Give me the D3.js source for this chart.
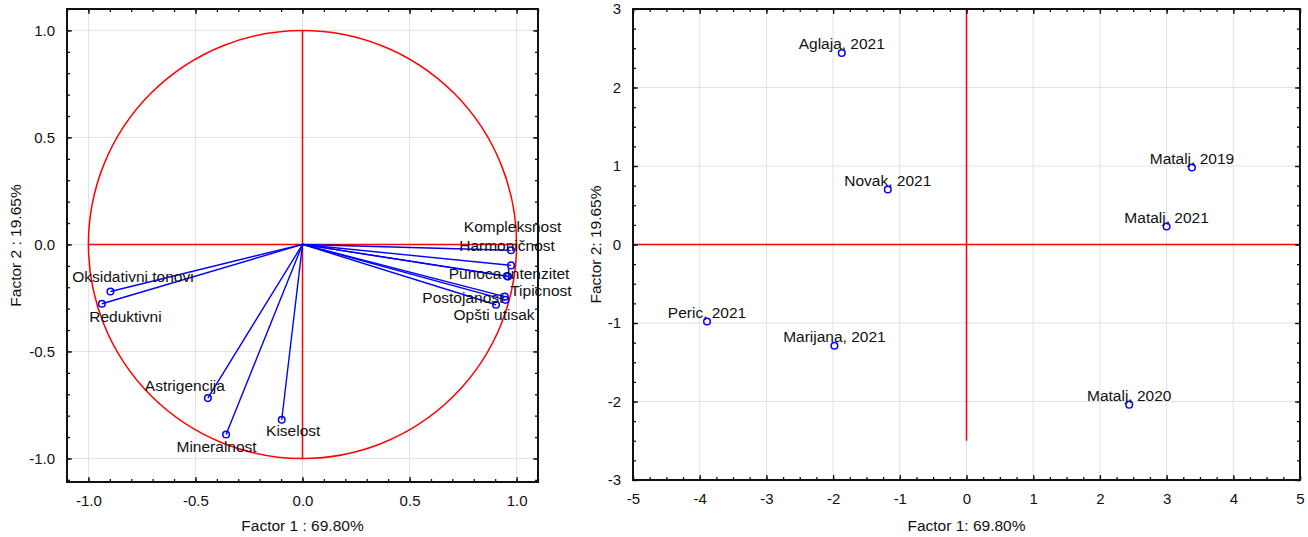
<!DOCTYPE html>
<html>
<head>
<meta charset="utf-8">
<script src="https://cdn.jsdelivr.net/npm/d3@7"></script>
<style>
  html, body { margin: 0; padding: 0; background: #fff; }
  svg { display: block; }
  text { font-family: "Liberation Sans", Arial, sans-serif; fill: #111; }
</style>
</head>
<body>
<svg id="chart" width="1308" height="537"></svg>
<script>
// ---------- DATA ----------
const variableNames = ["Kompleksnost", "Harmoničnost", "Punoca", "Intenzitet", "Tipicnost",
  "Postojanost", "Opšti utisak", "Oksidativni tonovi", "Reduktivni", "Astrigencija",
  "Mineralnost", "Kiselost"];
const loadingF1 = [0.974, 0.974, 0.960, 0.955, 0.948, 0.945, 0.904, -0.897, -0.937, -0.442, -0.357, -0.097];
const loadingF2 = [-0.027, -0.098, -0.150, -0.148, -0.259, -0.244, -0.282, -0.220, -0.277, -0.718, -0.888, -0.819];

const caseNames = ["Aglaja, 2021", "Novak, 2021", "Matalj, 2019", "Matalj, 2021",
  "Peric, 2021", "Marijana, 2021", "Matalj, 2020"];
const scoreF1 = [-1.87, -1.18, 3.38, 3.00, -3.89, -1.98, 2.44];
const scoreF2 = [2.44, 0.70, 0.98, 0.23, -0.98, -1.29, -2.04];

const leftTicks = [-1.0, -0.5, 0.0, 0.5, 1.0];
const rightXTicks = [-5, -4, -3, -2, -1, 0, 1, 2, 3, 4, 5];
const rightYTicks = [-3, -2, -1, 0, 1, 2, 3];

const leftXTitle = "Factor 1 : 69.80%";
const leftYTitle = "Factor 2 : 19.65%";
const rightXTitle = "Factor 1: 69.80%";
const rightYTitle = "Factor 2: 19.65%";

// ---------- LAYOUT (label offsets in px, from marker to label centre) ----------
const loadingLabelOffsets = [
  [1.5, -23.5], [-4, -20], [-33, -3.5], [31, -3], [35.5, -9], [-42, 0.5],
  [-2, 10], [22.5, -15], [23.5, 13], [-23, -13], [-9.5, 12.5], [11.5, 11]
];

const svg = d3.select("#chart");
const RED = "#ff0000", BLUE = "#0000ff", GRID = "#e2e2e2";
const fmt1 = d => d.toFixed(1).replace("−", "-");
const fmt0 = d => String(d);

function panel(opts) {
  const { xs, ys, xTicks, yTicks, xMinorStep, yMinorStep, fmt, xTitle, yTitle, xTitleY, yTitleX } = opts;
  const [x0, x1] = xs.range();
  const [y0, y1] = ys.range(); // y0 bottom, y1 top
  const g = svg.append("g");

  // gridlines
  g.append("g").selectAll("line.gx").data(xTicks).join("line")
    .attr("x1", d => xs(d)).attr("x2", d => xs(d)).attr("y1", y1).attr("y2", y0)
    .attr("stroke", GRID).attr("stroke-width", 1);
  g.append("g").selectAll("line.gy").data(yTicks).join("line")
    .attr("y1", d => ys(d)).attr("y2", d => ys(d)).attr("x1", x0).attr("x2", x1)
    .attr("stroke", GRID).attr("stroke-width", 1);

  const layer = g.append("g");

  // axes with inward ticks
  const xd = xs.domain(), yd = ys.domain();
  const minor = (lo, hi, step) => d3.range(Math.ceil(lo / step - 1e-9) * step, hi + 1e-9, step);
  const xMinor = minor(xd[0], xd[1], xMinorStep);
  const yMinor = minor(yd[0], yd[1], yMinorStep);

  const axG = g.append("g");
  const styleAxis = sel => {
    sel.select(".domain").remove();
    sel.selectAll(".tick line").attr("stroke", "#111").attr("stroke-width", 1.3);
    sel.selectAll(".tick text").style("font-size", "15px").style("font-family", "'Liberation Sans', Arial, sans-serif").attr("fill", "#111");
  };
  // bottom
  axG.append("g").attr("transform", `translate(0,${y0})`)
    .call(d3.axisBottom(xs).tickValues(xMinor).tickSize(-3).tickFormat("")).call(styleAxis);
  axG.append("g").attr("transform", `translate(0,${y0})`)
    .call(d3.axisBottom(xs).tickValues(xTicks).tickSize(-5).tickPadding(13).tickFormat(fmt)).call(styleAxis);
  // top
  axG.append("g").attr("transform", `translate(0,${y1})`)
    .call(d3.axisTop(xs).tickValues(xMinor).tickSize(-3).tickFormat("")).call(styleAxis);
  axG.append("g").attr("transform", `translate(0,${y1})`)
    .call(d3.axisTop(xs).tickValues(xTicks).tickSize(-5).tickFormat("")).call(styleAxis);
  // left
  axG.append("g").attr("transform", `translate(${x0},0)`)
    .call(d3.axisLeft(ys).tickValues(yMinor).tickSize(-3).tickFormat("")).call(styleAxis);
  axG.append("g").attr("transform", `translate(${x0},0)`)
    .call(d3.axisLeft(ys).tickValues(yTicks).tickSize(-5).tickPadding(12).tickFormat(fmt)).call(styleAxis);
  // right
  axG.append("g").attr("transform", `translate(${x1},0)`)
    .call(d3.axisRight(ys).tickValues(yMinor).tickSize(-3).tickFormat("")).call(styleAxis);
  axG.append("g").attr("transform", `translate(${x1},0)`)
    .call(d3.axisRight(ys).tickValues(yTicks).tickSize(-5).tickFormat("")).call(styleAxis);

  // frame
  g.append("rect").attr("x", x0).attr("y", y1).attr("width", x1 - x0).attr("height", y0 - y1)
    .attr("fill", "none").attr("stroke", "#111").attr("stroke-width", 2);

  // titles
  g.append("text").attr("x", (x0 + x1) / 2).attr("y", xTitleY).attr("text-anchor", "middle")
    .style("font-size", "15.5px").text(xTitle);
  g.append("text").attr("transform", `translate(${yTitleX},${(y0 + y1) / 2}) rotate(-90)`)
    .attr("text-anchor", "middle").attr("dominant-baseline", "central")
    .style("font-size", "15.5px").text(yTitle);

  return layer;
}

// ---------- LEFT PANEL: loadings ----------
const xL = d3.scaleLinear().domain([-1.1, 1.1]).range([67, 538]);
const yL = d3.scaleLinear().domain([-1.11, 1.1]).range([482, 9]);
const L = panel({ xs: xL, ys: yL, xTicks: leftTicks, yTicks: leftTicks, xMinorStep: 0.1, yMinorStep: 0.1,
  fmt: fmt1, xTitle: leftXTitle, yTitle: leftYTitle, xTitleY: 531, yTitleX: 15 });

// unit circle
L.append("ellipse").attr("cx", xL(0)).attr("cy", yL(0))
  .attr("rx", xL(1) - xL(0)).attr("ry", yL(0) - yL(1))
  .attr("fill", "none").attr("stroke", RED).attr("stroke-width", 1.5);
L.append("line").attr("x1", xL(-1)).attr("x2", xL(1)).attr("y1", yL(0)).attr("y2", yL(0))
  .attr("stroke", RED).attr("stroke-width", 1.5);
L.append("line").attr("x1", xL(0)).attr("x2", xL(0)).attr("y1", yL(1)).attr("y2", yL(-1))
  .attr("stroke", RED).attr("stroke-width", 1.5);

const loadings = variableNames.map((n, i) => ({ name: n, f1: loadingF1[i], f2: loadingF2[i], off: loadingLabelOffsets[i] }));
L.append("g").selectAll("line").data(loadings).join("line")
  .attr("x1", xL(0)).attr("y1", yL(0))
  .attr("x2", d => xL(d.f1)).attr("y2", d => yL(d.f2))
  .attr("stroke", BLUE).attr("stroke-width", 1.4);
L.append("g").selectAll("circle").data(loadings).join("circle")
  .attr("cx", d => xL(d.f1)).attr("cy", d => yL(d.f2)).attr("r", 3.3)
  .attr("fill", "none").attr("stroke", BLUE).attr("stroke-width", 1.5);
L.append("g").selectAll("text").data(loadings).join("text")
  .attr("x", d => xL(d.f1) + d.off[0]).attr("y", d => yL(d.f2) + d.off[1])
  .attr("text-anchor", "middle").attr("dominant-baseline", "central")
  .style("font-size", "15.5px").text(d => d.name);

// ---------- RIGHT PANEL: scores ----------
const xR = d3.scaleLinear().domain([-5, 5]).range([633, 1300]);
const yR = d3.scaleLinear().domain([-3, 3]).range([480, 9]);
const R = panel({ xs: xR, ys: yR, xTicks: rightXTicks, yTicks: rightYTicks, xMinorStep: 0.25, yMinorStep: 0.25,
  fmt: fmt0, xTitle: rightXTitle, yTitle: rightYTitle, xTitleY: 531, yTitleX: 595 });

R.append("line").attr("x1", xR(-5)).attr("x2", xR(5)).attr("y1", yR(0)).attr("y2", yR(0))
  .attr("stroke", RED).attr("stroke-width", 1.5);
R.append("line").attr("x1", xR(0)).attr("x2", xR(0)).attr("y1", yR(3)).attr("y2", yR(-2.5))
  .attr("stroke", RED).attr("stroke-width", 1.5);

const cases = caseNames.map((n, i) => ({ name: n, f1: scoreF1[i], f2: scoreF2[i] }));
R.append("g").selectAll("circle").data(cases).join("circle")
  .attr("cx", d => xR(d.f1)).attr("cy", d => yR(d.f2)).attr("r", 3.3)
  .attr("fill", "none").attr("stroke", BLUE).attr("stroke-width", 1.5);
R.append("g").selectAll("text").data(cases).join("text")
  .attr("x", d => xR(d.f1)).attr("y", d => yR(d.f2) - 9)
  .attr("text-anchor", "middle").attr("dominant-baseline", "central")
  .style("font-size", "15.5px").text(d => d.name);
</script>
</body>
</html>
